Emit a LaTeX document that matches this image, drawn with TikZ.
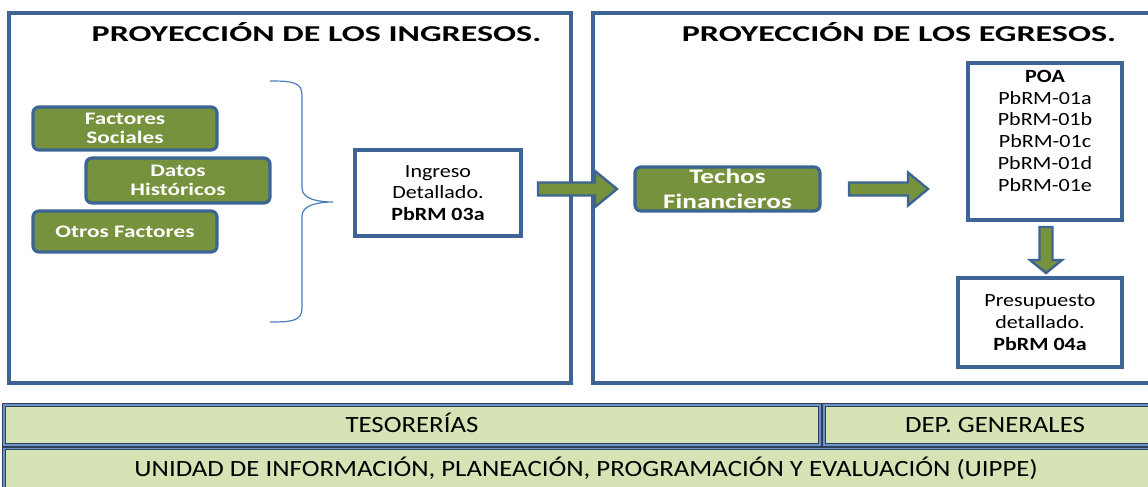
\documentclass[tikz,border=0pt]{standalone}
\usepackage{fontspec}
\setmainfont{Carlito}
\newfontfamily\titlefont[FakeStretch=1.5]{Carlito}
\newfontfamily\greenfont[FakeStretch=1.32]{Carlito}
\newfontfamily\boxfont[FakeStretch=1.18]{Carlito}
\newfontfamily\barfont[FakeStretch=1.15]{Carlito}
\usetikzlibrary{calc}
\definecolor{panelblue}{HTML}{3C6495}
\definecolor{olivefill}{HTML}{76923C}
\definecolor{barfill}{HTML}{D6E3B5}
\definecolor{bracecol}{HTML}{4A7EBB}
\definecolor{bardark}{HTML}{2E3F5C}
\definecolor{barblue}{HTML}{6F93C4}
\newcommand\harrow[5]{% x1, x2, y, head length, head half-height
  \draw[blockarrow] (#1,#3-6.5) -- (#2-#4,#3-6.5) -- (#2-#4,#3-#5) -- (#2,#3)
    -- (#2-#4,#3+#5) -- (#2-#4,#3+6.5) -- (#1,#3+6.5) -- cycle;}
\begin{document}
\begin{tikzpicture}[x=0.75pt,y=-0.75pt,
  sz/.style 2 args={minimum width=#1*0.75pt, minimum height=#2*0.75pt},
  panel/.style={draw=panelblue, line width=2.5pt, inner sep=0pt},
  greenbox/.style={draw=panelblue, fill=olivefill, line width=2.4pt, rounded corners=4.5pt,
    inner sep=0pt, text=white, align=center,
    font=\greenfont\fontsize{13.2}{14.3}\selectfont\bfseries},
  docbox/.style={draw=panelblue, fill=white, line width=2.4pt, inner sep=0pt, align=center,
    font=\boxfont\fontsize{14}{16.3}\selectfont},
  doctext/.style={inner sep=0pt, align=center, font=\boxfont\fontsize{14}{16.3}\selectfont},
  bar/.style={draw=bardark, double=barblue, double distance=0.8pt, line width=0.9pt,
    fill=barfill, inner sep=0pt, text height=11.3pt, text depth=0pt,
    font=\barfont\fontsize{17.5}{20}\selectfont},
  titletext/.style={inner sep=0pt, anchor=base, font=\titlefont\fontsize{17}{19}\selectfont\bfseries},
  blockarrow/.style={draw=panelblue, fill=olivefill, line width=1.8pt, line join=miter},
  bracestyle/.style={draw=bracecol, line width=0.9pt}]
\useasboundingbox (0,0) rectangle (1148,486);
\clip (0,0) rectangle (1148,486);

% panels
\node[panel, sz={562}{370}] (lp) at (290,198) {};
\node[panel, sz={582}{370}] (rp) at (884,198) {};
\node[titletext] (t1) at (316.5,41) {PROYECCIÓN DE LOS INGRESOS.};
\node[titletext] (t2) at (899,41) {PROYECCIÓN DE LOS EGRESOS.};

% left side
\node[greenbox, sz={184}{43}] (fs) at (125,128.5) {Factores\\Sociales};
\node[greenbox, sz={184}{45}] (dh) at (178,180.5) {Datos\\Históricos};
\node[greenbox, sz={184}{41}] (of) at (125,231.5) {Otros Factores};

\draw[bracestyle] (270,81) .. controls (292,81) and (302,82) .. (302,95)
  -- (302,188) .. controls (302,199) and (318,202) .. (333,202)
  .. controls (318,202) and (302,205) .. (302,216)
  -- (302,308) .. controls (302,321) and (292,322) .. (270,322);

\node[docbox, sz={166}{86}] (ing) at (438,193) {Ingreso\\Detallado.\\\textbf{PbRM 03a}};

% right side
\node[greenbox, sz={185}{44}, font=\greenfont\fontsize{15.5}{18.5}\selectfont\bfseries] (tf) at (727.5,189) {Techos\\Financieros};
\node[docbox, sz={154}{157}] (poa) at (1045,141.5) {};
\node[doctext, anchor=north] (poatext) at (1045,70) {\textbf{POA}\\PbRM-01a\\PbRM-01b\\PbRM-01c\\PbRM-01d\\PbRM-01e};
\node[docbox, sz={164}{89}] (pre) at (1040,322.5) {Presupuesto\\detallado.\\\textbf{PbRM 04a}};

% block arrows
\harrow{538}{617}{189}{22}{18}
\harrow{849}{928}{189}{20}{16.5}
\draw[blockarrow] (1039.5,227) -- (1052.5,227) -- (1052.5,260) -- (1062,260) -- (1046,273)
  -- (1030,260) -- (1039.5,260) -- cycle;

% bottom bars
\node[bar, sz={816}{40}] (tes) at (412,425) {TESORERÍAS};
\node[bar, sz={342}{40}] (dep) at (995,425) {DEP. GENERALES};
\node[bar, sz={1164}{41}] (uippe) at (586,469) {UNIDAD DE INFORMACIÓN, PLANEACIÓN, PROGRAMACIÓN Y EVALUACIÓN (UIPPE)};
\end{tikzpicture}
\end{document}
